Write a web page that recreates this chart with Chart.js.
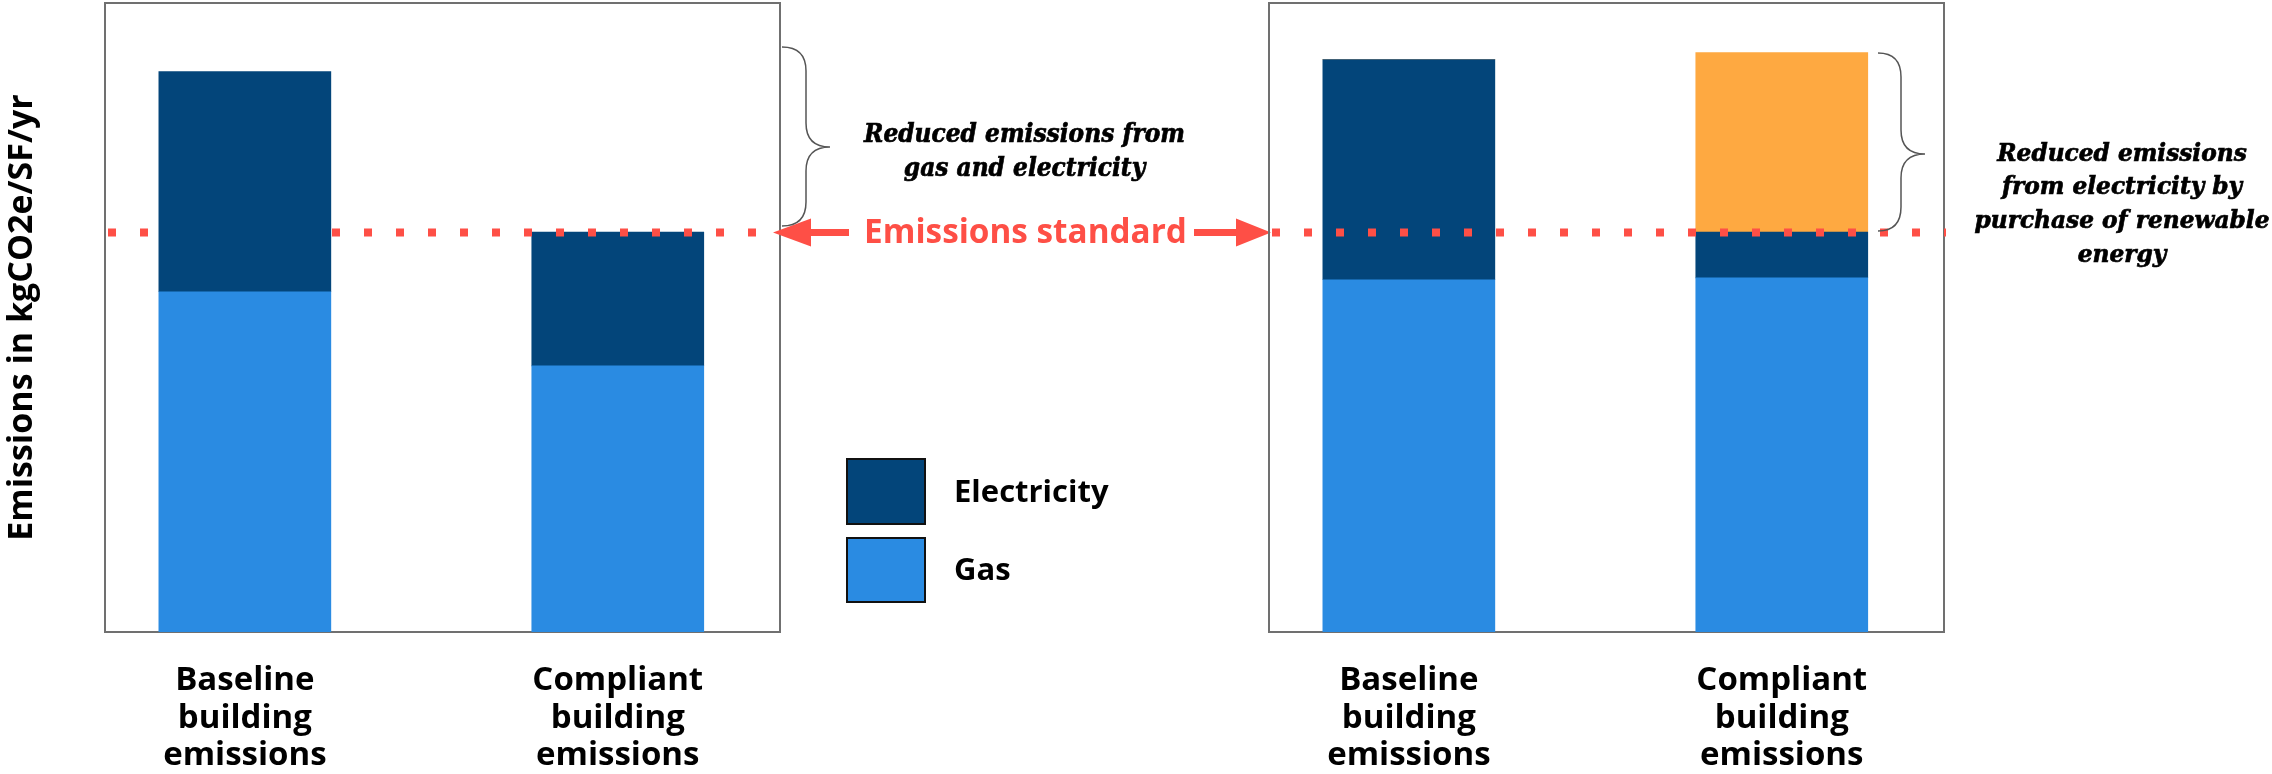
<!DOCTYPE html>
<html>
<head>
<meta charset="utf-8">
<script src="https://cdn.jsdelivr.net/npm/chart.js@4.4.1/dist/chart.umd.min.js"></script>
<style>
    html, body { margin: 0; padding: 0; background: #fff; }
    body { width: 2272px; height: 774px; position: relative; overflow: hidden; }
    #chartLeft { position: absolute; left: 0; top: 0; }
    #chartRight { position: absolute; left: 1240px; top: 0; }
</style>
</head>
<body>
<canvas id="chartLeft" width="1290" height="774" style="width:1290px;height:774px"></canvas>
<canvas id="chartRight" width="1032" height="774" style="width:1032px;height:774px"></canvas>
<script>
// DATA (no numbers on the original axis, values read off in % of the plot height)
var categories = [["Baseline", "building", "emissions"], ["Compliant", "building", "emissions"]];
var seriesNames = ["Gas", "Electricity", "Renewable energy"];
var seriesColors = ["#2a8be2", "#03457a", "#fea941"];
var gasBefore = [54.1, 42.3];
var electricityBefore = [35.0, 21.3];
var gasAfter = [56.0, 56.3];
var electricityAfter = [35.0, 7.3];
var renewableAfter = [0, 28.5];
var emissionsStandard = 63.5;
var yMax = 100;

var RED = "#fe4f46";
var SANS = '"Open Sans", sans-serif';
var SERIF = '"DejaVu Serif", serif';

function points(values) {
    return values.map(function (v, i) { return { x: i, y: v }; });
}

// serif notes: font size from cap height, squeezed sideways to the width of the widest line
function drawNote(ctx, lines, cx, baselines, size, widest, width) {
    ctx.save();
    ctx.font = "italic bold " + size + "px " + SERIF;
    var sx = width / ctx.measureText(lines[widest]).width;
    ctx.translate(cx, 0);
    ctx.scale(sx, 1);
    ctx.fillStyle = "#000";
    ctx.strokeStyle = "#000";
    ctx.lineWidth = 0.7;
    ctx.textAlign = "center";
    ctx.textBaseline = "alphabetic";
    lines.forEach(function (t, i) {
        ctx.fillText(t, 0, baselines[i]);
        ctx.strokeText(t, 0, baselines[i]);
    });
    ctx.restore();
}

function drawBrace(ctx, x0, xs, xp, y0, ym, y1, r) {
    ctx.save();
    ctx.strokeStyle = "#555";
    ctx.lineWidth = 1.5;
    ctx.beginPath();
    ctx.moveTo(x0, y0);
    ctx.quadraticCurveTo(xs, y0, xs, y0 + r);
    ctx.lineTo(xs, ym - r);
    ctx.quadraticCurveTo(xs, ym, xp, ym);
    ctx.quadraticCurveTo(xs, ym, xs, ym + r);
    ctx.lineTo(xs, y1 - r);
    ctx.quadraticCurveTo(xs, y1, x0, y1);
    ctx.stroke();
    ctx.restore();
}

function drawArrow(ctx, xTail, xBase, xTip, y) {
    ctx.save();
    ctx.strokeStyle = RED;
    ctx.fillStyle = RED;
    ctx.lineWidth = 7;
    ctx.beginPath();
    ctx.moveTo(xTail, y);
    ctx.lineTo(xBase, y);
    ctx.stroke();
    ctx.beginPath();
    ctx.moveTo(xTip, y);
    ctx.lineTo(xBase, y - 14);
    ctx.lineTo(xBase, y + 14);
    ctx.closePath();
    ctx.fill();
    ctx.restore();
}

// box round the plot area + dotted emissions standard line
function panelPlugin(hideUnderFirstBar, extra) {
    return {
        id: "panel",
        beforeDatasetsDraw: function (chart) {
            var a = chart.chartArea, ctx = chart.ctx;
            ctx.save();
            ctx.strokeStyle = "#707070";
            ctx.lineWidth = 2;
            ctx.strokeRect(a.left, a.top, a.right - a.left, a.bottom - a.top);
            ctx.restore();
        },
        afterDatasetsDraw: function (chart) {
            var a = chart.chartArea, ctx = chart.ctx;
            var y = chart.scales.y.getPixelForValue(emissionsStandard);
            ctx.save();
            if (hideUnderFirstBar) {
                var bar = chart.getDatasetMeta(1).data[0];
                ctx.beginPath();
                ctx.rect(0, 0, chart.width, chart.height);
                ctx.rect(bar.x - bar.width / 2, a.top, bar.width, a.bottom - a.top);
                ctx.clip("evenodd");
            }
            ctx.strokeStyle = RED;
            ctx.lineWidth = 8;
            ctx.setLineDash([8, 24]);
            ctx.beginPath();
            ctx.moveTo(a.left + 3, y);
            ctx.lineTo(hideUnderFirstBar ? a.right - 20 : a.right + 2, y);
            ctx.stroke();
            ctx.restore();
        },
        afterDraw: function (chart) {
            if (extra) extra(chart);
        }
    };
}

function baseOptions(padding, showY) {
    return {
        responsive: false,
        animation: false,
        layout: { padding: padding },
        plugins: { legend: { display: false }, tooltip: { enabled: false } },
        datasets: { bar: { barThickness: 172, borderWidth: 0 } },
        scales: {
            x: {
                type: "linear",
                stacked: true,
                offset: false,
                bounds: "data",
                min: -0.375,
                max: 1.435,
                grid: { display: false, drawTicks: false, offset: false },
                border: { display: false },
                afterBuildTicks: function (scale) {
                    scale.ticks = categories.map(function (c, i) { return { value: i }; });
                },
                afterFit: function (scale) { scale.height = 142; },
                ticks: {
                    autoSkip: false,
                    maxRotation: 0,
                    padding: 30,
                    color: "#000",
                    font: { family: SANS, size: 33, weight: "bold", lineHeight: 1.14 },
                    callback: function (value) { return categories[value]; }
                }
            },
            y: {
                display: showY,
                stacked: true,
                min: 0,
                max: yMax,
                grid: { display: false },
                border: { display: false },
                ticks: { display: false },
                afterFit: function (scale) { scale.width = showY ? 105 : 0; },
                title: {
                    display: true,
                    text: "Emissions in kgCO2e/SF/yr",
                    color: "#000",
                    padding: { top: 2, bottom: 0 },
                    font: { family: SANS, size: 34, weight: "bold" }
                }
            }
        }
    };
}

// LEFT PANEL: gas and electricity reduced
var ctxLeft = document.getElementById("chartLeft").getContext("2d");
var chartLeft = new Chart(ctxLeft, {
    type: "bar",
    data: {
        datasets: [
            { label: seriesNames[0], data: points(gasBefore), backgroundColor: seriesColors[0] },
            { label: seriesNames[1], data: points(electricityBefore), backgroundColor: seriesColors[1] }
        ]
    },
    options: baseOptions({ left: 0, right: 510, top: 3, bottom: 0 }, true),
    plugins: [panelPlugin(true, function (chart) {
        var ctx = chart.ctx;
        var y = chart.scales.y.getPixelForValue(emissionsStandard);
        ctx.save();
        // arrows + label
        drawArrow(ctx, 849, 811, 773, y);
        drawArrow(ctx, 1194, 1236, 1271, y);
        ctx.font = "bold 100px " + SANS;
        var size = 100 * 323 / ctx.measureText("Emissions standard").width;
        ctx.font = "bold " + size + "px " + SANS;
        ctx.fillStyle = RED;
        ctx.textAlign = "center";
        ctx.fillText("Emissions standard", 1025.5, 242.5);
        // brace + note
        drawBrace(ctx, 782, 806, 830, 47, 147, 226, 24);
        drawNote(ctx, ["Reduced emissions from", "gas and electricity"], 1024.5, [142, 175.5], 25.5, 0, 321);
        // legend
        var items = [{ i: 1, top: 459, h: 65, base: 502 }, { i: 0, top: 538, h: 64, base: 580 }];
        ctx.font = "bold 31px " + SANS;
        ctx.textAlign = "left";
        items.forEach(function (it) {
            ctx.fillStyle = seriesColors[it.i];
            ctx.fillRect(847, it.top, 78, it.h);
            ctx.strokeStyle = "#111";
            ctx.lineWidth = 2;
            ctx.strokeRect(847, it.top, 78, it.h);
            ctx.fillStyle = "#000";
            ctx.fillText(seriesNames[it.i], 954, it.base);
        });
        ctx.restore();
    })]
});

// RIGHT PANEL: renewable energy purchase
var ctxRight = document.getElementById("chartRight").getContext("2d");
var chartRight = new Chart(ctxRight, {
    type: "bar",
    data: {
        datasets: [
            { label: seriesNames[0], data: points(gasAfter), backgroundColor: seriesColors[0] },
            { label: seriesNames[1], data: points(electricityAfter), backgroundColor: seriesColors[1] },
            { label: seriesNames[2], data: points(renewableAfter), backgroundColor: seriesColors[2] }
        ]
    },
    options: baseOptions({ left: 29, right: 328, top: 3, bottom: 0 }, false),
    plugins: [panelPlugin(false, function (chart) {
        var ctx = chart.ctx;
        drawBrace(ctx, 638, 661, 685, 53, 154, 231, 24);
        drawNote(ctx, ["Reduced emissions", "from electricity by", "purchase of renewable", "energy"],
            882, [160.5, 194, 228, 261.5], 24, 2, 295);
    })]
});
</script>
</body>
</html>
